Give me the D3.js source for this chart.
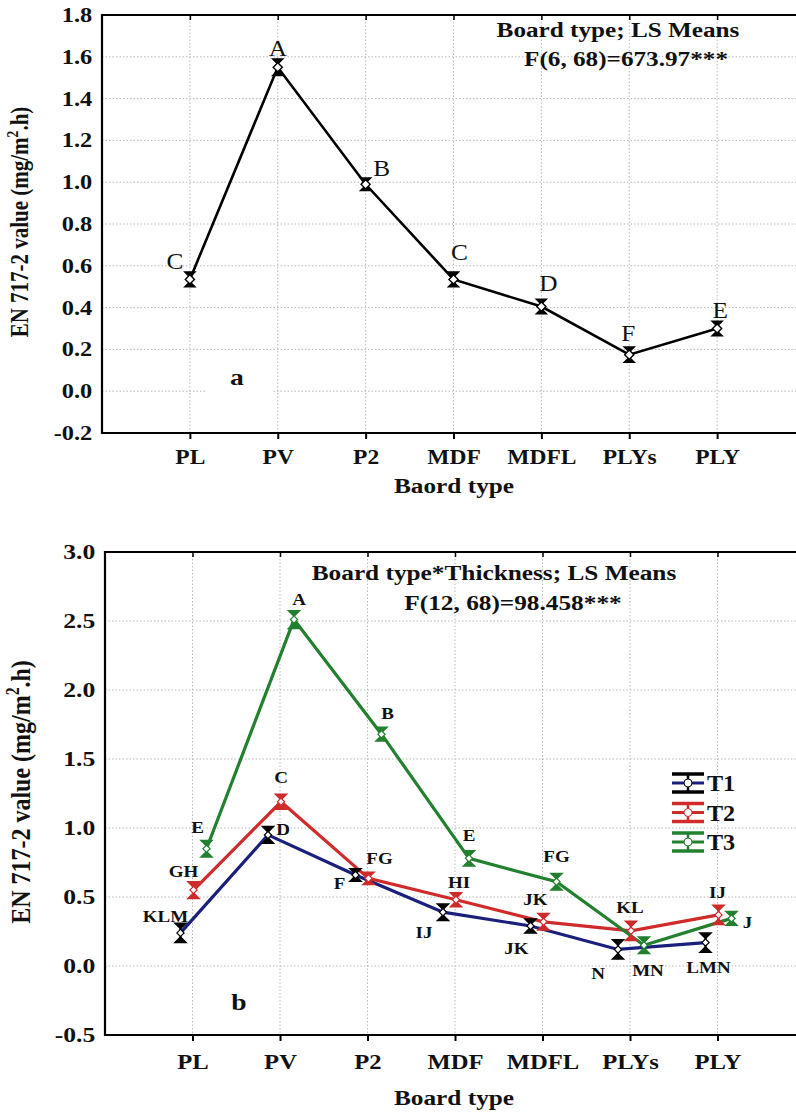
<!DOCTYPE html>
<html><head><meta charset="utf-8">
<script src="https://cdn.jsdelivr.net/npm/d3@7"></script>
<style>
body{margin:0;background:#fff}
svg{display:block}
text{font-family:"Liberation Serif","Times New Roman",serif}
</style></head>
<body><svg id="c" width="796" height="1113"></svg>
<script>
// ---------- DATA ----------
const categories = ["PL","PV","P2","MDF","MDFL","PLYs","PLY"];

// Panel a: board type LS means
const meansA = [0.535, 1.55, 0.99, 0.535, 0.405, 0.175, 0.30];
const errA   = [0.035, 0.04, 0.03, 0.035, 0.035, 0.037, 0.035];
const lettersA = ["C","A","B","C","D","F","E"];
const yTicksA = [-0.2, 0.0, 0.2, 0.4, 0.6, 0.8, 1.0, 1.2, 1.4, 1.6, 1.8];
const yTickLabelsA = ["-0.2","0.0","0.2","0.4","0.6","0.8","1.0","1.2","1.4","1.6","1.8"];

// Panel b: board type * thickness
const seriesB = ["T1","T2","T3"];
const meansT1 = [0.24, 0.95, 0.66, 0.39, 0.29, 0.12, 0.17];
const errT1   = [0.07, 0.06, 0.045, 0.06, 0.05, 0.07, 0.07];
const meansT2 = [0.55, 1.19, 0.635, 0.48, 0.32, 0.255, 0.37];
const errT2   = [0.06, 0.055, 0.045, 0.05, 0.06, 0.07, 0.07];
const meansT3 = [0.85, 2.51, 1.68, 0.78, 0.61, 0.15, 0.345];
const errT3   = [0.06, 0.065, 0.05, 0.055, 0.06, 0.06, 0.05];
const lettersT1 = ["KLM","D","F","IJ","JK","N","LMN"];
const lettersT2 = ["GH","C","FG","HI","JK","KL","IJ"];
const lettersT3 = ["E","A","B","E","FG","MN","J"];
const yTicksB = [-0.5, 0.0, 0.5, 1.0, 1.5, 2.0, 2.5, 3.0];
const yTickLabelsB = ["-0.5","0.0","0.5","1.0","1.5","2.0","2.5","3.0"];

// ---------- STYLE / LAYOUT ----------
const svg = d3.select("#c");
const colors = {T1:"#1b1f7c", T2:"#cf2b2b", T3:"#22802e"};
const barColors = {T1:"#000000", T2:"#cf2b2b", T3:"#22802e"};

function txt(g, x, y, s, size, weight, anchor, sx){
  return g.append("text").attr("x",0).attr("y",0)
    .attr("transform",`translate(${x},${y}) scale(${sx||1.15},1)`)
    .attr("font-size",size).attr("font-weight",weight||"bold")
    .attr("text-anchor",anchor||"middle").attr("fill","#111").text(s);
}

function yLabel(g, x, y, size){
  const t = g.append("text").attr("transform",`translate(${x},${y}) scale(1.15,1) rotate(-90)`)
    .attr("font-size",size).attr("font-weight","bold").attr("text-anchor","middle").attr("fill","#111");
  t.append("tspan").text("EN 717-2 value (mg/m");
  t.append("tspan").attr("font-size",size*0.65).attr("dy",-size*0.4).text("2");
  t.append("tspan").attr("dy",size*0.4).text(".h)");
}

function errBar(g, x, yTop, yBot, color, capW, lw){
  g.append("line").attr("x1",x).attr("x2",x).attr("y1",yTop).attr("y2",yBot)
    .attr("stroke",color).attr("stroke-width",lw);
  const h = capW*0.5;
  g.append("path").attr("d",`M${x-capW/2},${yTop}L${x+capW/2},${yTop}L${x},${yTop+h}Z`)
    .attr("fill",color).attr("stroke",color).attr("stroke-width",1.5);
  g.append("path").attr("d",`M${x-capW/2},${yBot}L${x+capW/2},${yBot}L${x},${yBot-h}Z`)
    .attr("fill",color).attr("stroke",color).attr("stroke-width",1.5);
}

function frame(g, x, y, left, right, top, bottom, yTicks, yLabels, tickFontSize, catOffset){
  const grid = g.append("g").attr("stroke","#b8b8b8").attr("stroke-width",1).attr("stroke-dasharray","1.5,2");
  yTicks.forEach(v => grid.append("line").attr("x1",left).attr("x2",right).attr("y1",y(v)).attr("y2",y(v)));
  categories.forEach(c => grid.append("line").attr("x1",x(c)).attr("x2",x(c)).attr("y1",top).attr("y2",bottom));
  const ax = g.append("g").attr("transform",`translate(${left},0)`)
    .call(d3.axisLeft(y).tickValues(yTicks).tickSize(0).tickPadding(8)
      .tickFormat((d,i)=>yLabels[i]));
  ax.select(".domain").remove();
  ax.selectAll("text").attr("font-size",tickFontSize).attr("font-weight","bold")
    .attr("font-family","Liberation Serif").attr("fill","#111").attr("transform","scale(1.22,1)");
  const bx = g.append("g").attr("transform",`translate(0,${bottom})`)
    .call(d3.axisBottom(x).tickSize(6).tickPadding(catOffset));
  bx.select(".domain").remove();
  bx.selectAll("line").attr("stroke","#000").attr("stroke-width",2);
  bx.selectAll("text").attr("font-size",tickFontSize+1).attr("font-weight","bold")
    .attr("font-family","Liberation Serif").attr("fill","#111").attr("transform","scale(1.12,1)");
  const tx = g.append("g").attr("transform",`translate(0,${top})`)
    .call(d3.axisTop(x).tickSize(-5).tickFormat(""));
  tx.select(".domain").remove();
  tx.selectAll("line").attr("stroke","#000").attr("stroke-width",1.5);
  g.append("line").attr("x1",left).attr("x2",left).attr("y1",top-1).attr("y2",bottom+1).attr("stroke","#000").attr("stroke-width",2.2);
  g.append("line").attr("x1",left).attr("x2",right).attr("y1",bottom).attr("y2",bottom).attr("stroke","#000").attr("stroke-width",2.2);
  g.append("line").attr("x1",left).attr("x2",right).attr("y1",top).attr("y2",top).attr("stroke","#000").attr("stroke-width",1.8);
}

// ---------- PANEL A ----------
(function(){
  const left=102, right=805, top=15, bottom=433;
  const x = d3.scalePoint().domain(categories).range([left,right]).padding(1);
  const y = d3.scaleLinear().domain([-0.2,1.8]).range([bottom,top]);
  const g = svg.append("g");
  frame(g, x, y, left, right, top, bottom, yTicksA, yTickLabelsA, 20, 10);

  g.append("rect").attr("x",205).attr("y",362).attr("width",68).attr("height",34).attr("fill","#fff");
  txt(g, 237, 385, "a", 24, "bold");

  const pts = categories.map((c,i)=>[x(c), y(meansA[i])]);
  g.append("path").attr("d",d3.line()(pts)).attr("fill","none").attr("stroke","#000").attr("stroke-width",2.6);
  categories.forEach((c,i)=>{
    errBar(g, x(c), y(meansA[i]+errA[i]), y(meansA[i]-errA[i]), "#000", 10, 2);
  });
  categories.forEach((c,i)=>{
    g.append("path").attr("d",d3.symbol(d3.symbolSquare,42)())
      .attr("transform",`translate(${x(c)},${y(meansA[i])}) rotate(45)`)
      .attr("fill","#fff").attr("stroke","#000").attr("stroke-width",1.4);
  });
  const offA = [[-15,-18],[0,-19],[16,-16],[6,-27],[7,-24],[-1,-22],[3,-19]];
  categories.forEach((c,i)=>{
    txt(g, x(c)+offA[i][0], y(meansA[i])+offA[i][1], lettersA[i], 23, "normal", "middle", 1.1)
      .attr("dominant-baseline","central");
  });
  txt(g, 618, 37, "Board type; LS Means", 21, "bold", "middle", 1.2);
  txt(g, 626, 66, "F(6, 68)=673.97***", 21, "bold", "middle", 1.2);
  yLabel(g, 28, 222, 21);
  txt(g, 454, 493, "Baord type", 22, "bold", "middle", 1.15);
})();

// ---------- PANEL B ----------
(function(){
  const left=105, right=805, top=552, bottom=1035;
  const x = d3.scalePoint().domain(categories).range([left,right]).padding(1);
  const y = d3.scaleLinear().domain([-0.5,3.0]).range([bottom,top]);
  const off = d3.scalePoint().domain(seriesB).range([-12,14]);
  const g = svg.append("g");
  frame(g, x, y, left, right, top, bottom, yTicksB, yTickLabelsB, 21, 12);

  const data = {
    T1:{m:meansT1, e:errT1, l:lettersT1},
    T2:{m:meansT2, e:errT2, l:lettersT2},
    T3:{m:meansT3, e:errT3, l:lettersT3}
  };
  seriesB.forEach(s=>{
    const pts = categories.map((c,i)=>[x(c)+off(s), y(data[s].m[i])]);
    g.append("path").attr("d",d3.line()(pts)).attr("fill","none")
      .attr("stroke",colors[s]).attr("stroke-width",3.2);
  });
  seriesB.forEach(s=>{
    categories.forEach((c,i)=>{
      const m=data[s].m[i], e=data[s].e[i];
      errBar(g, x(c)+off(s), y(m+e), y(m-e), barColors[s], 11, 2.2);
    });
  });
  seriesB.forEach(s=>{
    categories.forEach((c,i)=>{
      g.append("path").attr("d",d3.symbol(d3.symbolSquare,26)())
        .attr("transform",`translate(${x(c)+off(s)},${y(data[s].m[i])}) rotate(45)`)
        .attr("fill","#fff").attr("stroke",barColors[s]).attr("stroke-width",1.2);
    });
  });
  const offL = {
    T1:[[-15,-17],[15,-6],[-16,8],[-19,20],[-14,22],[-20,24],[3,25]],
    T2:[[-10,-19],[0,-24],[11,-20],[3,-17],[-8,-22],[-1,-23],[-1,-23]],
    T3:[[-9,-21],[5,-20],[6,-21],[0,-23],[0,-25],[4,25],[16,4]]
  };
  seriesB.forEach(s=>{
    categories.forEach((c,i)=>{
      txt(g, x(c)+off(s)+offL[s][i][0], y(data[s].m[i])+offL[s][i][1], data[s].l[i], 17, "bold", "middle", 1.12)
        .attr("dominant-baseline","central");
    });
  });
  txt(g, 239, 1010, "b", 24, "bold");
  txt(g, 494, 580, "Board type*Thickness; LS Means", 22, "bold", "middle", 1.15);
  txt(g, 513, 610, "F(12, 68)=98.458***", 22, "bold", "middle", 1.15);
  yLabel(g, 30, 792, 24);
  txt(g, 454, 1105, "Board type", 22, "bold", "middle", 1.15);

  const lg = g.append("g");
  const ly = d3.scalePoint().domain(seriesB).range([783, 842]);
  seriesB.forEach(s=>{
    const cy = ly(s), x0=672, x1=704, cx=(x0+x1)/2;
    lg.append("line").attr("x1",x0).attr("x2",x1).attr("y1",cy-9).attr("y2",cy-9).attr("stroke",barColors[s]).attr("stroke-width",3.5);
    lg.append("line").attr("x1",x0).attr("x2",x1).attr("y1",cy+9).attr("y2",cy+9).attr("stroke",barColors[s]).attr("stroke-width",3.5);
    lg.append("line").attr("x1",cx).attr("x2",cx).attr("y1",cy-9).attr("y2",cy+9).attr("stroke",barColors[s]).attr("stroke-width",2.5);
    lg.append("line").attr("x1",x0).attr("x2",x1).attr("y1",cy).attr("y2",cy).attr("stroke",colors[s]).attr("stroke-width",3);
    lg.append("circle").attr("cx",cx).attr("cy",cy).attr("r",4).attr("fill","#fff").attr("stroke",barColors[s]).attr("stroke-width",1);
    txt(lg, 707, cy+8, s, 23, "bold", "start", 1.05);
  });
})();
</script>
</body></html>
